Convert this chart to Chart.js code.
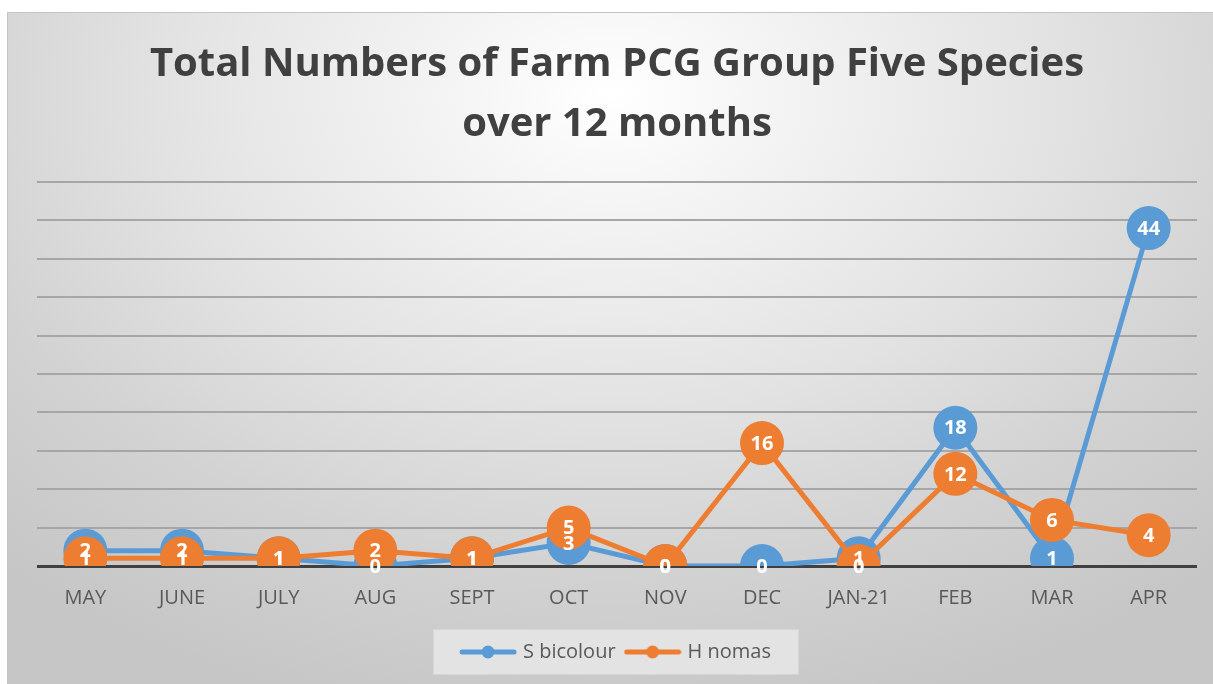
<!DOCTYPE html>
<html>
<head>
<meta charset="utf-8">
<script src="https://cdn.jsdelivr.net/npm/chart.js@4.4.0/dist/chart.umd.min.js"></script>
<style>
  html, body { margin: 0; padding: 0; background: #ffffff; width: 1213px; height: 684px; overflow: hidden; }
  #bg { position: absolute; left: 7px; top: 12px; width: 1206px; height: 672px;
        border-top: 1px solid #c4c4c4; border-left: 1px solid #c4c4c4; box-sizing: border-box;
        background: radial-gradient(ellipse 75% 95% at 50% 12%, #ffffff 0%, #f4f4f4 18%, #e2e2e2 50%, #d2d2d2 75%, #c6c6c6 100%); }
  #wrap { position: absolute; left: 0; top: 0; width: 1213px; height: 684px; }
</style>
</head>
<body>
<div id="bg"></div>
<div id="wrap"><canvas id="c" width="1213" height="684"></canvas></div>
<script>
const months = ["MAY", "JUNE", "JULY", "AUG", "SEPT", "OCT", "NOV", "DEC", "JAN-21", "FEB", "MAR", "APR"];
const sBicolour = [2, 2, 1, 0, 1, 3, 0, 0, 1, 18, 1, 44];
const hNomas = [1, 1, 1, 2, 1, 5, 0, 16, 0, 12, 6, 4];
const seriesNames = ["S bicolour", "H nomas"];
const titleLines = ["Total Numbers of Farm PCG Group Five Species", "over 12 months"];

const BLUE = "#5b9bd5";
const ORANGE = "#ed7d31";
const FONT = "'Open Sans', Lato, sans-serif";

function legendIcon(color) {
  const cv = document.createElement("canvas");
  cv.width = 58; cv.height = 16;
  const g = cv.getContext("2d");
  g.strokeStyle = color; g.lineWidth = 5; g.lineCap = "round";
  g.beginPath(); g.moveTo(3, 8); g.lineTo(55, 8); g.stroke();
  g.fillStyle = color; g.beginPath(); g.arc(29, 8, 6.5, 0, Math.PI * 2); g.fill();
  return cv;
}
const icons = { [BLUE]: legendIcon(BLUE), [ORANGE]: legendIcon(ORANGE) };

const valueLabels = {
  id: "valueLabels",
  afterDatasetsDraw(chart) {
    const ctx = chart.ctx;
    ctx.save();
    ctx.font = "bold 20px " + FONT;
    ctx.fillStyle = "#ffffff";
    ctx.textAlign = "center";
    ctx.textBaseline = "middle";
    [1, 0].forEach(i => {
      const meta = chart.getDatasetMeta(i);
      const ds = chart.data.datasets[i];
      meta.data.forEach((pt, j) => {
        ctx.fillText(String(ds.data[j]), pt.x, pt.y + 1);
      });
    });
    ctx.restore();
  }
};

const legendBox = {
  id: "legendBox",
  beforeDraw(chart) {
    const lg = chart.legend;
    if (!lg || !lg.legendHitBoxes || !lg.legendHitBoxes.length) return;
    const hb = lg.legendHitBoxes;
    let l = Infinity, r = -Infinity, t = Infinity, b = -Infinity;
    hb.forEach(h => { l = Math.min(l, h.left); r = Math.max(r, h.left + h.width); t = Math.min(t, h.top); b = Math.max(b, h.top + h.height); });
    const ctx = chart.ctx;
    ctx.save();
    ctx.fillStyle = "#e3e3e3";
    ctx.strokeStyle = "#d6d6d6";
    ctx.lineWidth = 1;
    const x = l - 30, y = t - 13, w = (r - l) + 58, h = (b - t) + 26;
    ctx.fillRect(x, y, w, h);
    ctx.strokeRect(x + 0.5, y + 0.5, w - 1, h - 1);
    ctx.restore();
  }
};

new Chart(document.getElementById("c"), {
  type: "line",
  data: {
    labels: months,
    datasets: [
      {
        label: seriesNames[1], data: hNomas, order: 0,
        borderColor: ORANGE, backgroundColor: ORANGE, borderWidth: 5,
        pointRadius: 22, pointHoverRadius: 22, pointBorderWidth: 0,
        pointBackgroundColor: ORANGE, pointStyle: "circle", tension: 0
      },
      {
        label: seriesNames[0], data: sBicolour, order: 1,
        borderColor: BLUE, backgroundColor: BLUE, borderWidth: 5,
        pointRadius: 22, pointHoverRadius: 22, pointBorderWidth: 0,
        pointBackgroundColor: BLUE, pointStyle: "circle", tension: 0
      }
    ]
  },
  options: {
    responsive: false,
    animation: false,
    devicePixelRatio: 1,
    layout: { autoPadding: false, padding: { left: 37, right: 16, top: 0, bottom: 12 } },
    scales: {
      x: {
        offset: true,
        grid: { display: false, drawTicks: false },
        border: { display: false },
        ticks: { color: "#595959", font: { family: FONT, size: 20 }, padding: 20, maxRotation: 0, autoSkip: false },
        afterFit: s => { s.paddingLeft = 0; s.paddingRight = 0; }
      },
      y: {
        min: 0, max: 50,
        ticks: { display: false, stepSize: 5 },
        border: { display: false },
        grid: {
          drawTicks: false,
          color: c => (c.tick && c.tick.value === 0) ? "#404040" : "#a6a6a6",
          lineWidth: c => (c.tick && c.tick.value === 0) ? 3 : 2
        },
        afterFit: s => { s.width = 0; }
      }
    },
    plugins: {
      title: {
        display: true,
        text: titleLines,
        color: "#404040",
        font: { family: FONT, size: 40, weight: "bold", lineHeight: 1.5 },
        padding: { top: 35, bottom: 27 }
      },
      legend: {
        position: "bottom",
        labels: {
          usePointStyle: true,
          pointStyleWidth: 50,
          boxHeight: 16,
          color: "#595959",
          font: { family: FONT, size: 20 },
          padding: 12,
          sort: (a, b) => b.datasetIndex - a.datasetIndex,
          generateLabels: chart => chart.data.datasets.map((ds, i) => ({
            text: ds.label, fillStyle: ds.borderColor, strokeStyle: ds.borderColor,
            lineWidth: 0, pointStyle: icons[ds.borderColor], hidden: false, datasetIndex: i, fontColor: "#595959"
          }))
        }
      },
      tooltip: { enabled: false }
    }
  },
  plugins: [legendBox, valueLabels]
});
</script>
</body>
</html>
